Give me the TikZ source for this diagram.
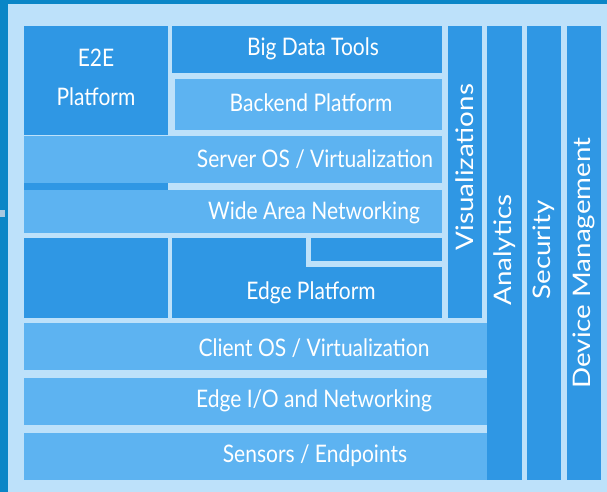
\documentclass[tikz,border=0pt]{standalone}
\usepackage{fontspec}
\setmainfont{Lato}
\definecolor{framec}{HTML}{0A86C7}
\definecolor{bgc}{HTML}{BDE1FA}
\definecolor{darkc}{HTML}{2F97E4}
\definecolor{lightc}{HTML}{5DB3F1}
\definecolor{tabc}{HTML}{A8C8E0}
\tikzset{
  blk/.style={inner sep=0pt, outer sep=0pt, anchor=north west},
  darkbox/.style={blk, fill=darkc},
  lightbox/.style={blk, fill=lightc},
  lbl/.style={text=white, font=\fontsize{21}{24}\selectfont, inner sep=0pt},
  vlbl/.style={lbl, rotate=90},
}
\newcommand\hl[1]{\scalebox{1}[1.15]{#1}}
\newcommand\vl[1]{\scalebox{1.32}[1.15]{#1}}
\begin{document}
\begin{tikzpicture}[x=1pt,y=-1pt]
\useasboundingbox (0,0) rectangle (607,492);
\fill[framec] (0,0) rectangle (607,492);
\fill[bgc] (8,4) rectangle (607,492);
\fill[tabc] (0,210) rectangle (5,217);
% left E2E column
\node[darkbox, minimum width=144pt, minimum height=109pt] (e2e) at (24,26) {};
\node[darkbox, minimum width=144pt, minimum height=7pt] (e2estrip) at (24,183) {};
\node[darkbox, minimum width=144pt, minimum height=80pt] (e2elow) at (24,238) {};
% upper right boxes
\node[darkbox, minimum width=270pt, minimum height=47pt] (bigdata) at (172,26) {};
\node[lightbox, minimum width=267pt, minimum height=51pt] (backend) at (175,79) {};
\node[lightbox, minimum width=418pt, minimum height=47pt] (serveros) at (24,136) {};
\node[lightbox, minimum width=418pt, minimum height=43pt] (wan) at (24,190) {};
\node[darkbox, minimum width=270pt, minimum height=80pt] (edge) at (172,238) {};
\fill[bgc] (306,238) rectangle (311,267);
\fill[bgc] (306,261) rectangle (442,267);
% bottom rows
\node[lightbox, minimum width=463pt, minimum height=47pt] (clientos) at (24,323) {};
\node[lightbox, minimum width=463pt, minimum height=47pt] (edgeio) at (24,378) {};
\node[lightbox, minimum width=463pt, minimum height=47pt] (sensors) at (24,433) {};
% columns
\node[darkbox, minimum width=34pt, minimum height=292pt] (vis) at (448,26) {};
\node[darkbox, minimum width=35pt, minimum height=454pt] (analytics) at (487,26) {};
\node[darkbox, minimum width=34pt, minimum height=454pt] (security) at (527,26) {};
\node[darkbox, minimum width=34pt, minimum height=454pt] (devmgmt) at (567,26) {};
% labels
\node[lbl] (t1) at (96,58) {\hl{E2E}};
\node[lbl] (t2) at (96,97) {\hl{Platform}};
\node[lbl] (t3) at (313,49) {\hl{Big Data Tools}};
\node[lbl] (t4) at (311,103) {\hl{Backend Platform}};
\node[lbl] (t5) at (315,159) {\hl{Server OS / Virtualization}};
\node[lbl] (t6) at (314,213) {\hl{Wide Area Networking}};
\node[lbl] (t7) at (311,293) {\hl{Edge Platform}};
\node[lbl] (t8) at (314,348) {\hl{Client OS / Virtualization}};
\node[lbl] (t9) at (314,401) {\hl{Edge I/O and Networking}};
\node[lbl] (t10) at (315,456) {\hl{Sensors / Endpoints}};
\node[vlbl] (t11) at (465,167) {\vl{Visualizations}};
\node[vlbl] (t12) at (505,250) {\vl{Analytics}};
\node[vlbl] (t13) at (544,250) {\vl{Security}};
\node[vlbl] (t14) at (584,263) {\vl{Device Management}};
\end{tikzpicture}
\end{document}
